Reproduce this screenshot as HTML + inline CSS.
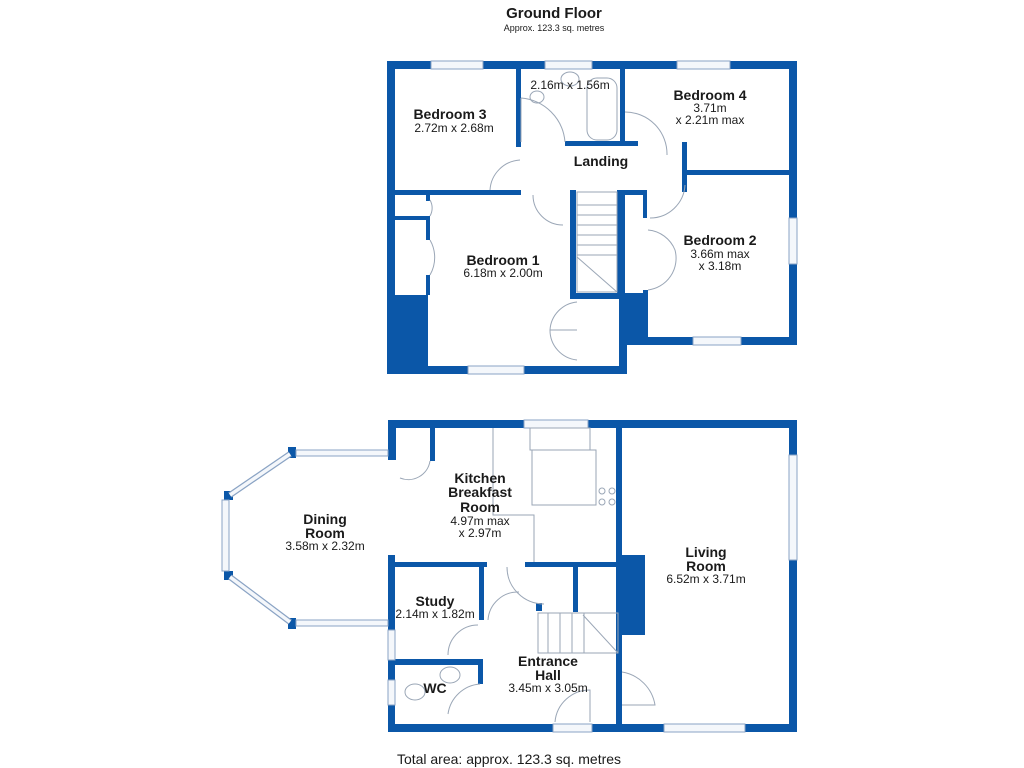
<!DOCTYPE html>
<html><head><meta charset="utf-8"><style>
html,body{margin:0;padding:0;background:#fff;}
svg{display:block;}
text{font-family:"Liberation Sans",Arial,sans-serif;fill:#1a1a1a;}
.b{font-weight:bold;font-size:14px;}
.s{font-size:12px;}
</style></head><body>
<svg width="1024" height="768" viewBox="0 0 1024 768" xmlns="http://www.w3.org/2000/svg">
<rect width="1024" height="768" fill="#fff"/>
<text x="554" y="18" text-anchor="middle" font-weight="bold" font-size="15">Ground Floor</text>
<text x="554" y="31" text-anchor="middle" font-size="9">Approx. 123.3 sq. metres</text>

<g fill="#0b57a8">
<!-- TOP FLOOR -->
<rect x="387" y="61" width="410" height="8"/>
<rect x="387" y="61" width="8" height="313"/>
<rect x="789" y="61" width="8" height="284"/>
<rect x="647" y="337" width="150" height="8"/>
<rect x="387" y="366" width="240" height="8"/>
<rect x="619" y="293" width="28" height="52"/>
<rect x="619" y="293" width="8" height="81"/>
<rect x="387" y="295" width="41" height="79"/>
<rect x="516" y="69" width="5" height="78"/>
<rect x="395" y="190" width="126" height="5"/>
<rect x="565" y="141" width="73" height="5"/>
<rect x="620" y="69" width="5" height="77"/>
<rect x="682" y="142" width="5" height="50"/>
<rect x="687" y="170" width="110" height="5"/>
<rect x="570" y="190" width="6" height="107"/>
<rect x="617" y="190" width="8" height="107"/>
<rect x="617" y="190" width="30" height="5"/>
<rect x="643" y="190" width="4" height="28"/>
<rect x="570" y="293" width="55" height="6"/>
<rect x="395" y="216" width="35" height="4"/>
<rect x="426" y="195" width="4" height="6"/>
<rect x="426" y="216" width="4" height="24"/>
<rect x="426" y="275" width="4" height="20"/>
<rect x="643" y="290" width="5" height="50"/>
<!-- BOTTOM FLOOR -->
<rect x="388" y="420" width="409" height="8"/>
<rect x="789" y="420" width="8" height="312"/>
<rect x="388" y="724" width="409" height="8"/>
<rect x="388" y="420" width="8" height="40"/>
<rect x="430" y="428" width="5" height="33"/>
<rect x="616" y="428" width="6" height="296"/>
<rect x="622" y="555" width="23" height="80"/>
<rect x="388" y="555" width="7" height="75"/>
<rect x="388" y="660" width="7" height="72"/>
<rect x="388" y="562" width="99" height="5"/>
<rect x="479" y="562" width="5" height="58"/>
<rect x="525" y="562" width="95" height="5"/>
<rect x="573" y="562" width="5" height="50"/>
<rect x="536" y="603" width="6" height="8"/>
<rect x="388" y="659" width="94" height="6"/>
<rect x="478" y="659" width="5" height="25"/>
<!-- bay nodes -->
<rect x="288" y="447" width="8" height="11"/>
<rect x="224" y="491" width="9" height="9"/>
<rect x="224" y="571" width="9" height="9"/>
<rect x="288" y="618" width="8" height="11"/>
</g>

<!-- windows -->
<g fill="#f4f7fb" stroke="#8aa3c4" stroke-width="1">
<rect x="431" y="61" width="52" height="8"/>
<rect x="545" y="61" width="47" height="8"/>
<rect x="677" y="61" width="53" height="8"/>
<rect x="468" y="366" width="56" height="8"/>
<rect x="693" y="337" width="48" height="8"/>
<rect x="789" y="218" width="8" height="46"/>
<rect x="524" y="420" width="64" height="8"/>
<rect x="664" y="724" width="81" height="8"/>
<rect x="789" y="455" width="8" height="105"/>
<rect x="388" y="630" width="7" height="30"/>
<rect x="388" y="680" width="7" height="25"/>
<rect x="553" y="724" width="39" height="8"/>
<rect x="296" y="450" width="92" height="6"/>
<rect x="296" y="620" width="92" height="6"/>
<rect x="222" y="500" width="7" height="71"/>
</g>
<g stroke="#8aa3c4" stroke-width="6" fill="none">
<line x1="290" y1="454" x2="230" y2="495"/>
<line x1="230" y1="577" x2="290" y2="622"/>
</g>
<g stroke="#f4f7fb" stroke-width="3.5" fill="none">
<line x1="290" y1="454" x2="230" y2="495"/>
<line x1="230" y1="577" x2="290" y2="622"/>
</g>

<!-- thin fixtures / doors -->
<g stroke="#9aa6b6" stroke-width="1" fill="none">
<!-- top stairs -->
<rect x="577" y="192" width="40" height="100"/>
<line x1="577" y1="205" x2="617" y2="205"/><line x1="577" y1="215" x2="617" y2="215"/>
<line x1="577" y1="225" x2="617" y2="225"/><line x1="577" y1="235" x2="617" y2="235"/>
<line x1="577" y1="245" x2="617" y2="245"/><line x1="577" y1="255" x2="617" y2="255"/>
<line x1="577" y1="257" x2="617" y2="292"/>
<!-- bath -->
<rect x="587" y="78" width="30" height="62" rx="10"/>
<ellipse cx="537" cy="97" rx="7" ry="6"/>
<ellipse cx="570" cy="79" rx="9" ry="7"/>
<!-- doors top -->
<path d="M521 98 A48 48 0 0 1 565 142"/><line x1="521" y1="98" x2="521" y2="142"/>
<path d="M625 112 A42 42 0 0 1 667 155"/>
<path d="M490 190 A32 32 0 0 1 520 160"/><path d="M533 195 A30 30 0 0 0 563 225"/>
<path d="M685 185 A35 35 0 0 1 650 218"/>
<path d="M648 230 A32 32 0 0 1 675 250 A32 32 0 0 1 648 290"/>
<path d="M430 240 A35 35 0 0 1 430 275"/>
<path d="M430 200 A16 16 0 0 1 430 216"/>
<path d="M577 302 A30 30 0 0 0 550 330 L577 330 M577 330 L550 330 A30 30 0 0 0 577 360"/>
<!-- bottom -->
<rect x="538" y="613" width="80" height="40"/>
<line x1="548" y1="613" x2="548" y2="653"/><line x1="560" y1="613" x2="560" y2="653"/>
<line x1="572" y1="613" x2="572" y2="653"/><line x1="584" y1="613" x2="584" y2="653"/>
<line x1="583" y1="615" x2="618" y2="653"/>
<polyline points="493,428 493,515 534,515 534,562"/>
<rect x="530" y="428" width="60" height="22"/>
<rect x="532" y="450" width="64" height="55"/>
<circle cx="602" cy="491" r="3"/><circle cx="612" cy="491" r="3"/>
<circle cx="602" cy="502" r="3"/><circle cx="612" cy="502" r="3"/>
<path d="M400 478 A22 22 0 0 0 430 461"/>
<path d="M488 620 A30 30 0 0 1 519 592"/>
<path d="M507 567 A37 37 0 0 0 544 604"/>
<path d="M448 655 A30 30 0 0 1 478 625"/>
<path d="M448 714 A35 35 0 0 1 480 684"/>
<path d="M555 722 A35 35 0 0 1 590 690 L590 722"/>
<path d="M622 672 A40 40 0 0 1 655 705 L622 705"/>
<ellipse cx="450" cy="675" rx="10" ry="8"/>
<ellipse cx="415" cy="692" rx="10" ry="8"/>
</g>

<!-- labels -->
<text class="b" x="450" y="119" text-anchor="middle">Bedroom 3</text>
<text class="s" x="454" y="132" text-anchor="middle">2.72m x 2.68m</text>
<text class="s" x="570" y="89" text-anchor="middle">2.16m x 1.56m</text>
<text class="b" x="710" y="100" text-anchor="middle">Bedroom 4</text>
<text class="s" x="710" y="112" text-anchor="middle">3.71m</text>
<text class="s" x="710" y="124" text-anchor="middle">x 2.21m max</text>
<text class="b" x="601" y="166" text-anchor="middle">Landing</text>
<text class="b" x="503" y="265" text-anchor="middle">Bedroom 1</text>
<text class="s" x="503" y="277" text-anchor="middle">6.18m x 2.00m</text>
<text class="b" x="720" y="245" text-anchor="middle">Bedroom 2</text>
<text class="s" x="720" y="258" text-anchor="middle">3.66m max</text>
<text class="s" x="720" y="270" text-anchor="middle">x 3.18m</text>

<text class="b" x="480" y="483" text-anchor="middle">Kitchen</text>
<text class="b" x="480" y="497" text-anchor="middle">Breakfast</text>
<text class="b" x="480" y="512" text-anchor="middle">Room</text>
<text class="s" x="480" y="525" text-anchor="middle">4.97m max</text>
<text class="s" x="480" y="537" text-anchor="middle">x 2.97m</text>
<text class="b" x="325" y="524" text-anchor="middle">Dining</text>
<text class="b" x="325" y="538" text-anchor="middle">Room</text>
<text class="s" x="325" y="550" text-anchor="middle">3.58m x 2.32m</text>
<text class="b" x="706" y="557" text-anchor="middle">Living</text>
<text class="b" x="706" y="571" text-anchor="middle">Room</text>
<text class="s" x="706" y="583" text-anchor="middle">6.52m x 3.71m</text>
<text class="b" x="435" y="606" text-anchor="middle">Study</text>
<text class="s" x="435" y="618" text-anchor="middle">2.14m x 1.82m</text>
<text class="b" x="435" y="693" text-anchor="middle">WC</text>
<text class="b" x="548" y="666" text-anchor="middle">Entrance</text>
<text class="b" x="548" y="680" text-anchor="middle">Hall</text>
<text class="s" x="548" y="692" text-anchor="middle">3.45m x 3.05m</text>

<text x="509" y="764" text-anchor="middle" font-size="14">Total area: approx. 123.3 sq. metres</text>
</svg>
</body></html>
